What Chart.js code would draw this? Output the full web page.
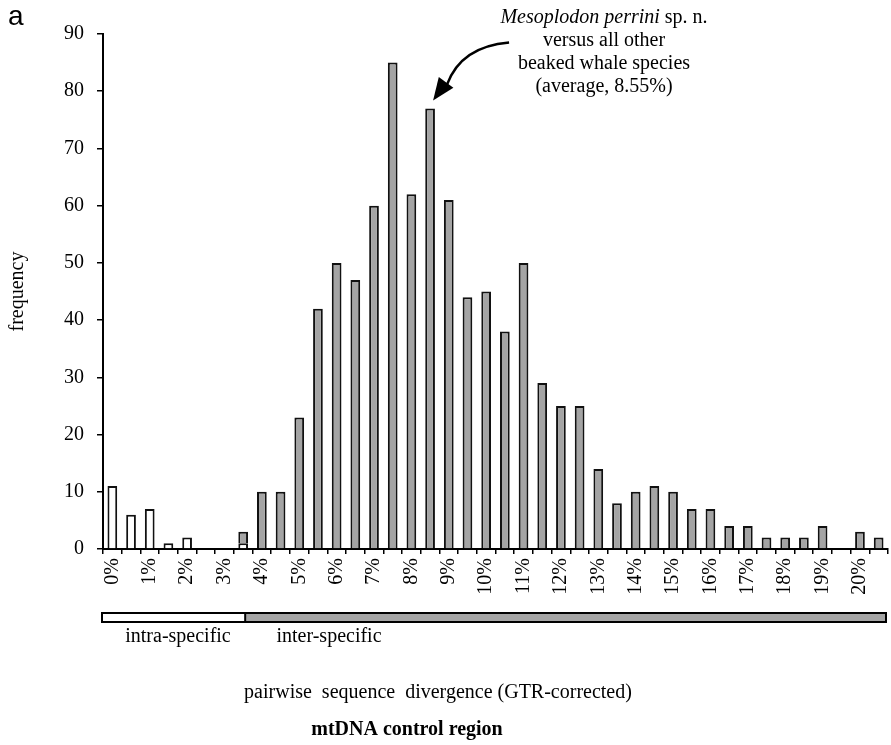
<!DOCTYPE html>
<html><head><meta charset="utf-8">
<style>html,body{margin:0;padding:0;background:#fff}#wrap{width:891px;height:745px;position:relative}</style>
<script src="https://cdn.jsdelivr.net/npm/chart.js@4.4.1/dist/chart.umd.min.js"></script>
</head><body><div id="wrap"><canvas id="c" width="891" height="745"></canvas></div>
<script>
// Divergence bins (0.5% wide)
const categories = ['0%','0.5%','1%','1.5%','2%','2.5%','3%','3.5%','4%','4.5%','5%','5.5%','6%','6.5%','7%','7.5%','8%','8.5%','9%','9.5%','10%','10.5%','11%','11.5%','12%','12.5%','13%','13.5%','14%','14.5%','15%','15.5%','16%','16.5%','17%','17.5%','18%','18.5%','19%','19.5%','20%','20.5%'];
// intra-specific comparisons (white bars)
const intraSpecific = [11,6,7,1,2,0,0,1,0,0,0,0,0,0,0,0,0,0,0,0,0,0,0,0,0,0,0,0,0,0,0,0,0,0,0,0,0,0,0,0,0,0];
// inter-specific comparisons (grey bars)
const interSpecific = [0,0,0,0,0,0,0,2,10,10,23,42,50,47,60,85,62,77,61,44,45,38,50,29,25,25,14,8,10,11,10,7,7,4,4,2,2,2,4,0,3,2];
// x tick labels shown (every 1%)
const xTickLabels = ['0%','','1%','','2%','','3%','','4%','','5%','','6%','','7%','','8%','','9%','','10%','','11%','','12%','','13%','','14%','','15%','','16%','','17%','','18%','','19%','','20%',''];
const yTicks = [0,10,20,30,40,50,60,70,80,90];

const SERIF = "'Liberation Serif','Times New Roman',serif";
const GREY = '#a4a4a4';
Chart.defaults.font.family = SERIF;
Chart.defaults.color = '#000';

const overlay = {
  id: 'overlay',
  afterDraw(chart) {
    const ctx = chart.ctx;
    const xs = chart.scales.x, ys = chart.scales.y;
    ctx.save();
    ctx.fillStyle = '#000';
    // panel letter
    ctx.font = "28px 'Liberation Sans', Arial, sans-serif";
    ctx.textAlign = 'left'; ctx.textBaseline = 'alphabetic';
    ctx.fillText('a', 8, 25);

    // annotation text
    ctx.textBaseline = 'middle';
    const cx = 604;
    ctx.font = 'italic 20px ' + SERIF;
    const t1 = 'Mesoplodon perrini';
    const w1 = ctx.measureText(t1).width;
    ctx.font = '20px ' + SERIF;
    const t2 = ' sp. n.';
    const w2 = ctx.measureText(t2).width;
    let sx = cx - (w1 + w2) / 2;
    ctx.textAlign = 'left';
    ctx.font = 'italic 20px ' + SERIF;
    ctx.fillText(t1, sx, 18);
    ctx.font = '20px ' + SERIF;
    ctx.fillText(t2, sx + w1, 18);
    ctx.textAlign = 'center';
    ctx.fillText('versus all other', cx, 41);
    ctx.fillText('beaked whale species', cx, 64);
    ctx.fillText('(average, 8.55%)', cx, 87);

    // arrow pointing at the 8.5% bar
    const tipX = xs.getPixelForValue(17) + 3;
    const tipY = ys.getPixelForValue(77) - 8;
    const bx = tipX + 13, by = tipY - 18;
    ctx.strokeStyle = '#000';
    ctx.lineWidth = 2.5;
    ctx.beginPath();
    ctx.moveTo(tipX + 76, tipY - 58);
    ctx.quadraticCurveTo(tipX + 28, tipY - 54, bx + 1, by + 2);
    ctx.stroke();
    let dx = tipX - bx, dy = tipY - by;
    const L = Math.hypot(dx, dy); dx /= L; dy /= L;
    const hw = 9;
    ctx.beginPath();
    ctx.moveTo(tipX, tipY);
    ctx.lineTo(bx - dy * hw, by + dx * hw);
    ctx.lineTo(bx + dy * hw, by - dx * hw);
    ctx.closePath();
    ctx.fill();

    // intra / inter bar below axis
    const left = xs.left - 1, right = xs.right - 2;
    const split = xs.getPixelForValue(7) + 2;
    const top = 613, h = 9;
    ctx.fillStyle = '#fff';
    ctx.fillRect(left, top, split - left, h);
    ctx.fillStyle = GREY;
    ctx.fillRect(split, top, right - split, h);
    ctx.lineWidth = 2;
    ctx.strokeStyle = '#000';
    ctx.strokeRect(left, top, right - left, h);
    ctx.beginPath(); ctx.moveTo(split, top); ctx.lineTo(split, top + h); ctx.stroke();

    ctx.fillStyle = '#000';
    ctx.font = '20px ' + SERIF;
    ctx.textAlign = 'center';
    ctx.fillText('intra-specific', 178, 637);
    ctx.fillText('inter-specific', 329, 637);

    ctx.fillText('pairwise  sequence  divergence (GTR-corrected)', 438, 693);
    ctx.font = 'bold 20px ' + SERIF;
    ctx.fillText('mtDNA control region', 407, 730);
    ctx.restore();
  }
};

new Chart(document.getElementById('c'), {
  type: 'bar',
  data: {
    labels: categories,
    datasets: [
      { label: 'intra-specific', data: intraSpecific, backgroundColor: '#fff', borderColor: '#111', borderWidth: 2, barPercentage: 0.52, categoryPercentage: 1 },
      { label: 'inter-specific', data: interSpecific, backgroundColor: GREY, borderColor: '#111', borderWidth: 2, barPercentage: 0.52, categoryPercentage: 1 }
    ]
  },
  options: {
    responsive: false,
    animation: false,
    devicePixelRatio: 1,
    layout: { padding: { top: 34, left: 0, right: 3, bottom: 140 } },
    plugins: { legend: { display: false }, tooltip: { enabled: false } },
    scales: {
      x: {
        stacked: true,
        grid: { display: true, drawOnChartArea: false, drawTicks: true, tickLength: 5, color: '#000', lineWidth: 1.5, offset: true },
        border: { display: true, color: '#000', width: 2 },
        ticks: {
          autoSkip: false, minRotation: 90, maxRotation: 90, padding: 4,
          font: { size: 20, family: SERIF }, color: '#000',
          callback: (v, i) => xTickLabels[i]
        },
        afterFit: s => { s.height = 56; s.paddingLeft = 0; s.paddingRight = 0; }
      },
      y: {
        stacked: true,
        min: 0, max: 90,
        afterBuildTicks: s => { s.ticks = yTicks.map(v => ({ value: v })); },
        grid: { drawOnChartArea: false, drawTicks: true, tickLength: 6, color: '#000', lineWidth: 1.5 },
        border: { display: true, color: '#000', width: 2 },
        ticks: { padding: 13, font: { size: 20, family: SERIF }, color: '#000' },
        title: { display: true, text: 'frequency', font: { size: 20, family: SERIF }, color: '#000', padding: { top: 6, bottom: 0 } },
        afterFit: s => { s.width = 103; }
      }
    }
  },
  plugins: [overlay]
});
</script>
</body></html>
